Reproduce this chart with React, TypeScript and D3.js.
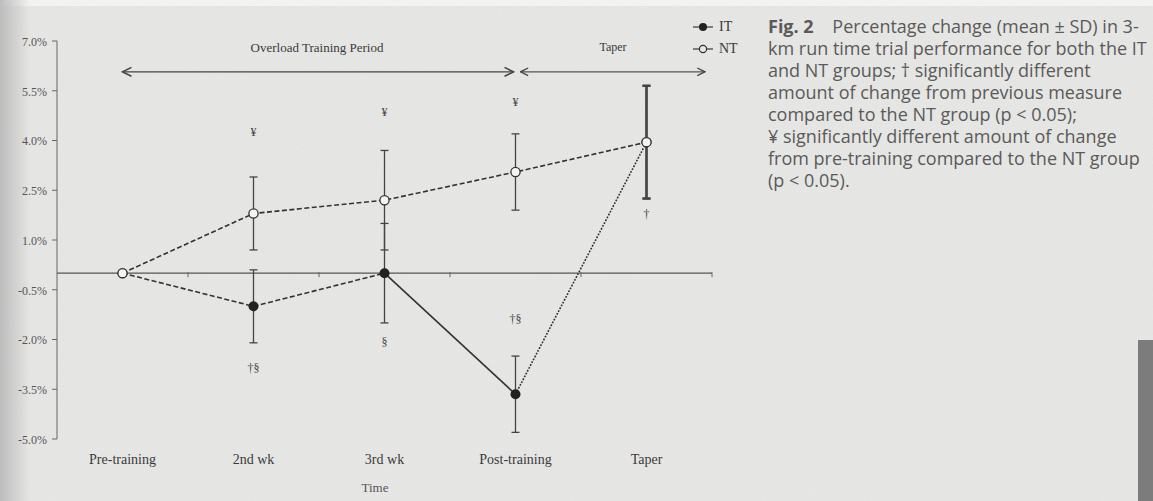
import React from 'react'
import * as d3 from 'd3'

const categories = ['Pre-training', '2nd wk', '3rd wk', 'Post-training', 'Taper']
const itMean = [0, -1.0, 0, -3.65, 3.95]
const itSD = [0, 1.1, 1.5, 1.15, 1.7]
const ntMean = [0, 1.8, 2.2, 3.05, 3.95]
const ntSD = [0, 1.1, 1.5, 1.15, 1.7]
const yTicks = [7.0, 5.5, 4.0, 2.5, 1.0, -0.5, -2.0, -3.5, -5.0]
// line style of each IT segment between consecutive time points
const itSegments = ['dash', 'dash', 'solid', 'dot']
const marks = [
  { cat: '2nd wk', value: 4.25, text: '¥' },
  { cat: '3rd wk', value: 4.86, text: '¥' },
  { cat: 'Post-training', value: 5.16, text: '¥' },
  { cat: 'Taper', value: 1.8, text: '†' },
  { cat: '2nd wk', value: -2.86, text: '†§' },
  { cat: '3rd wk', value: -2.07, text: '§' },
  { cat: 'Post-training', value: -1.38, text: '†§' },
]
const caption = [
  'Fig. 2    Percentage change (mean ± SD) in 3-',
  'km run time trial performance for both the IT',
  'and NT groups; † significantly different',
  'amount of change from previous measure',
  'compared to the NT group (p < 0.05);',
  '¥ significantly different amount of change',
  'from pre-training compared to the NT group',
  '(p < 0.05).',
]

const W = 1153
const H = 501
const paper = '#e8e8e6'
const ink = '#3a3a3a'
const serif = '"Liberation Serif", "DejaVu Serif", serif'

export default function App() {
  const x = d3.scaleBand().domain(categories).range([57, 712])
  const cx = (c: string) => (x(c) as number) + x.bandwidth() / 2
  const y = d3.scaleLinear().domain([-5, 7]).range([439, 41])
  const y0 = y(0)

  const dashOf = (s: string) => (s === 'dash' ? '5,2.5' : s === 'dot' ? '1.8,1.4' : undefined)
  const seg = d3.line<[number, number]>().x(d => d[0]).y(d => d[1])

  const errorBars = (means: number[], sds: number[], key: string) =>
    categories.map((c, i) => {
      if (!sds[i]) return null
      const top = y(means[i] + sds[i])
      const bot = y(means[i] - sds[i])
      const sw = c === 'Taper' ? 2.2 : 1.3
      return (
        <g key={key + c} stroke="#444" strokeWidth={sw}>
          <line x1={cx(c)} x2={cx(c)} y1={top} y2={bot} />
          <line x1={cx(c) - 4} x2={cx(c) + 4} y1={top} y2={top} />
          <line x1={cx(c) - 4} x2={cx(c) + 4} y1={bot} y2={bot} />
        </g>
      )
    })

  const ntPts = categories.map((c, i) => [cx(c), y(ntMean[i])] as [number, number])
  const itPts = categories.map((c, i) => [cx(c), y(itMean[i])] as [number, number])

  const arrowY = y(6.07)
  const a1 = [cx('Pre-training'), cx('Post-training') - 2]
  const a2 = [cx('Post-training') + 5, x.range()[1] - 7]

  return (
    <svg width={W} height={H} style={{ position: 'absolute', left: 0, top: 0 }} fontFamily={serif}>
      <defs>
        <linearGradient id="leftEdge" x1="0" x2="1" y1="0" y2="0">
          <stop offset="0" stopColor="#bdbdbd" />
          <stop offset="1" stopColor="#bdbdbd" stopOpacity="0" />
        </linearGradient>
        <filter id="grain">
          <feTurbulence type="fractalNoise" baseFrequency="0.9" numOctaves="2" seed="3" />
          <feColorMatrix type="matrix" values="0 0 0 0 0.5  0 0 0 0 0.5  0 0 0 0 0.5  0 0 0 0.35 0" />
        </filter>
        <marker id="head" viewBox="0 0 10 10" refX="9" refY="5" markerWidth="8" markerHeight="8" orient="auto-start-reverse">
          <path d="M1,1 L9,5 L1,9" fill="none" stroke="#444" strokeWidth="1.4" />
        </marker>
      </defs>

      <rect width={W} height={H} fill={paper} />
      <rect width={W} height={6} fill="#f6f6f6" />
      <rect width={30} height={H} fill="url(#leftEdge)" />
      <rect width={W} height={H} filter="url(#grain)" opacity={0.35} />
      <rect x={1138} y={340} width={15} height={H - 340} fill="#7c7c7c" />

      {/* y axis */}
      <line x1={57} x2={57} y1={y(7)} y2={y(-5)} stroke="#666" strokeWidth={1} />
      {yTicks.map(t => (
        <g key={t}>
          <line x1={52} x2={57} y1={y(t)} y2={y(t)} stroke="#666" />
          <text x={47} y={y(t)} dy="0.4em" textAnchor="end" fontSize={12} fill="#555">
            {t.toFixed(1) + '%'}
          </text>
        </g>
      ))}

      {/* zero line with band ticks */}
      <line x1={57} x2={x.range()[1]} y1={y0} y2={y0} stroke="#555" strokeWidth={1.2} />
      {categories.map(c => (
        <line key={c} x1={(x(c) as number) + x.step()} x2={(x(c) as number) + x.step()} y1={y0 - 1} y2={y0 + 4} stroke="#666" />
      ))}

      {/* category labels */}
      {categories.map(c => (
        <text key={c} x={cx(c)} y={464} textAnchor="middle" fontSize={14} fill={ink}>{c}</text>
      ))}
      <text x={375} y={492} textAnchor="middle" fontSize={13} fill="#555">Time</text>

      {/* period arrows */}
      <text x={317} y={52} textAnchor="middle" fontSize={13} fill={ink}>Overload Training Period</text>
      <line x1={a1[0]} x2={a1[1]} y1={arrowY} y2={arrowY} stroke="#444" strokeWidth={1.4} markerStart="url(#head)" markerEnd="url(#head)" />
      <text x={613} y={51} textAnchor="middle" fontSize={12} fill={ink}>Taper</text>
      <line x1={a2[0]} x2={a2[1]} y1={arrowY} y2={arrowY} stroke="#555" strokeWidth={1.2} markerStart="url(#head)" markerEnd="url(#head)" />

      {/* error bars */}
      {errorBars(ntMean, ntSD, 'nt')}
      {errorBars(itMean, itSD, 'it')}

      {/* lines */}
      <path d={seg(ntPts) || ''} fill="none" stroke="#333" strokeWidth={1.6} strokeDasharray="5,2.5" />
      {itSegments.map((s, i) => (
        <path key={i} d={seg([itPts[i], itPts[i + 1]]) || ''} fill="none" stroke="#333" strokeWidth={1.6} strokeDasharray={dashOf(s)} />
      ))}

      {/* markers */}
      {itPts.map((p, i) => (
        <circle key={'it' + i} cx={p[0]} cy={p[1]} r={5} fill="#222" />
      ))}
      {ntPts.map((p, i) => (
        <circle key={'nt' + i} cx={p[0]} cy={p[1]} r={4.6} fill="#f4f4f2" stroke="#333" strokeWidth={1.3} />
      ))}

      {/* significance marks */}
      {marks.map((m, i) => (
        <text key={i} x={cx(m.cat)} y={y(m.value)} dy="0.35em" textAnchor="middle" fontSize={12} fill="#444">{m.text}</text>
      ))}

      {/* legend */}
      <line x1={693} x2={713} y1={27} y2={27} stroke="#444" strokeWidth={1.3} />
      <circle cx={703} cy={27} r={4} fill="#222" />
      <text x={719} y={31} fontSize={14} fill={ink}>IT</text>
      <line x1={693} x2={713} y1={49} y2={49} stroke="#444" strokeWidth={1.3} />
      <circle cx={703} cy={49} r={3.6} fill={paper} stroke="#333" strokeWidth={1.2} />
      <text x={719} y={53} fontSize={14} fill={ink}>NT</text>

      {/* caption */}
      <g fontFamily='"Open Sans", "Noto Sans", sans-serif' fontSize={18} fill="#5a5a5a">
        {caption.map((l, i) => (
          <text key={i} x={768} y={33 + i * 22} xmlSpace="preserve">
            {i === 0 ? (
              <>
                <tspan fontWeight="bold">Fig. 2</tspan>
                {l.slice(6)}
              </>
            ) : l}
          </text>
        ))}
      </g>
    </svg>
  )
}
